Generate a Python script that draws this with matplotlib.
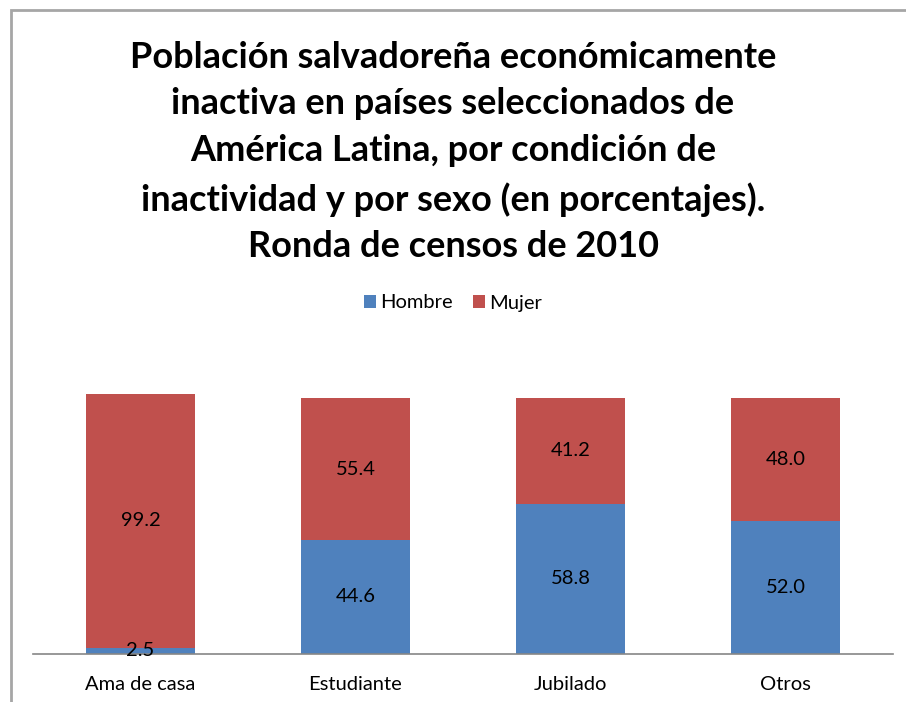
import matplotlib.pyplot as plt
import numpy as np
from matplotlib.patches import Rectangle

# Datos
categorias = ['Ama de casa', 'Estudiante', 'Jubilado', 'Otros']
hombre = [2.5, 44.6, 58.8, 52.0]
mujer = [99.2, 55.4, 41.2, 48.0]

titulo = ('Población salvadoreña económicamente\n'
          'inactiva en países seleccionados de\n'
          'América Latina, por condición de\n'
          'inactividad y por sexo (en porcentajes).\n'
          'Ronda de censos de 2010')

azul = '#4F81BD'
rojo = '#C0504D'
fuente = 'Lato'

fig = plt.figure(figsize=(9.06, 7.02), dpi=100)
ax = fig.add_axes([33/906, 48/702, 860/906, 307/702])

x = np.arange(len(categorias))
b1 = ax.bar(x, hombre, width=0.51, color=azul, label='Hombre')
b2 = ax.bar(x, mujer, width=0.51, bottom=hombre, color=rojo, label='Mujer')

# Etiquetas de datos
for i in range(len(categorias)):
    ax.text(x[i], hombre[i] / 2, f'{hombre[i]:.1f}', ha='center', va='center',
            fontsize=14.5, family=fuente)
    ax.text(x[i], hombre[i] + mujer[i] / 2, f'{mujer[i]:.1f}', ha='center',
            va='center', fontsize=14.5, family=fuente)

ax.set_xlim(-0.5, 3.5)
ax.set_ylim(0, 120)
ax.set_xticks(x)
ax.set_xticklabels(categorias, fontsize=14.5, family=fuente)
ax.tick_params(axis='x', length=0, pad=16)
ax.set_yticks([])
for s in ['top', 'right', 'left']:
    ax.spines[s].set_visible(False)
ax.spines['bottom'].set_color('#868686')
ax.spines['bottom'].set_linewidth(1.2)

fig.text(0.5, 1 - 152/702, titulo, ha='center', va='center', fontsize=26,
         fontweight='bold', family=fuente, linespacing=1.51)

fig.legend(handles=[b1, b2], loc='center', bbox_to_anchor=(0.5, 1 - 303/702),
           ncol=2, frameon=False, handlelength=0.6,
           handleheight=0.6, handletextpad=0.2, columnspacing=1.0,
           prop={'family': fuente, 'size': 14.5})

# Marco del gráfico
fig.patches.append(Rectangle((11/906, -0.1), 1.2, 1 - 10/702 + 0.1,
                             transform=fig.transFigure, fill=False,
                             edgecolor='#A6A6A6', linewidth=2))

plt.savefig('out.png', dpi=100)
